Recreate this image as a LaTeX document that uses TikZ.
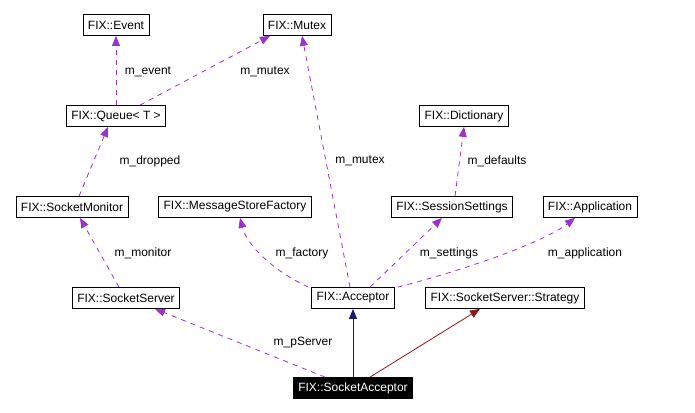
\documentclass[tikz,border=0pt]{standalone}
\usepackage{fontspec}
\setmainfont{Liberation Sans}
\usetikzlibrary{arrows.meta}

\definecolor{usecol}{HTML}{9A32CD}
\definecolor{basecol}{HTML}{191970}
\definecolor{privcol}{HTML}{8B1A1A}

\tikzset{
  cls/.style={draw,rectangle,line width=.8pt,inner xsep=5pt,inner ysep=0pt,
    minimum height=21pt,font=\fontsize{12}{14}\selectfont},
  usedby/.style={draw=usecol,line width=.8pt,dash pattern=on 5pt off 5pt,
    -{Triangle[length=10pt,width=8pt,fill=usecol]}},
  inherit/.style={draw=basecol,line width=.8pt,
    -{Triangle[length=10pt,width=8pt,fill=basecol]}},
  privinherit/.style={draw=privcol,line width=.8pt,
    -{Triangle[length=10pt,width=8pt,fill=privcol]}},
  lbl/.style={font=\fontsize{12}{14}\selectfont,inner sep=0pt}
}

\begin{document}
\begin{tikzpicture}[x=1pt,y=-1pt]
            \useasboundingbox (0,0) rectangle (695,412);
            \draw (116,25) node[cls] (event) {FIX::Event};
            \draw (297,25) node[cls] (mutex) {FIX::Mutex};
            \draw (116,116) node[cls] (queue) {FIX::Queue< T >};
            \draw (464,116) node[cls] (dict) {FIX::Dictionary};
            \draw (72,207) node[cls] (smonitor) {FIX::SocketMonitor};
            \draw (235,207) node[cls] (msfactory) {FIX::MessageStoreFactory};
            \draw (452,207) node[cls] (settings) {FIX::SessionSettings};
            \draw (590,207) node[cls] (app) {FIX::Application};
            \draw (126,298) node[cls] (sserver) {FIX::SocketServer};
            \draw (353,298) node[cls] (acceptor) {FIX::Acceptor};
            \draw (505,298) node[cls] (strategy) {FIX::SocketServer::Strategy};
            \draw (353,388) node[cls,fill=black,text=white] (sacceptor)
            {FIX::SocketAcceptor};

            \draw[usedby] (queue) -- (event);
            \draw (148,72) node[lbl] (l1) {m\_event};
            \draw[usedby] ([xshift=24pt]queue.north) -- ([xshift=-27pt]mutex.south);
            \draw (265,72) node[lbl] (l2) {m\_mutex};
            \draw[usedby] ([xshift=7pt]smonitor.north) -- ([xshift=-8pt]queue.south);
            \draw (150,161) node[lbl] (l3) {m\_dropped};
            \draw[usedby] ([xshift=-3pt]acceptor.north) -- ([xshift=5pt]mutex.south);
            \draw (360,161) node[lbl] (l4) {m\_mutex};
            \draw[usedby] ([xshift=3pt]settings.north) -- (dict.south);
            \draw (497,161) node[lbl] (l5) {m\_defaults};
            \draw[usedby] ([xshift=-7pt]sserver.north) -- ([xshift=8pt]smonitor.south);
            \draw (143,253) node[lbl] (l6) {m\_monitor};
            \draw[usedby] ([xshift=-3pt]acceptor.north west) .. controls (272,270)
            and (247,245) .. ([xshift=5pt]msfactory.south);
            \draw (302,253) node[lbl] (l7) {m\_factory};
            \draw[usedby] ([xshift=17pt]acceptor.north) -- ([xshift=-10pt]settings.south);
            \draw (449,253) node[lbl] (l8) {m\_settings};
            \draw[usedby] ([xshift=3pt]acceptor.north east) .. controls (450,274)
            and (540,245) .. ([xshift=-15pt]app.south);
            \draw (585,253) node[lbl] (l9) {m\_application};
            \draw[usedby] ([xshift=-28pt]sacceptor.north) -- ([xshift=29pt]sserver.south);
            \draw (303,343) node[lbl] (l10) {m\_pServer};
            \draw[inherit] (sacceptor) -- (acceptor);
            \draw[privinherit] ([xshift=17pt]sacceptor.north) -- ([xshift=-25pt]strategy.south);
\end{tikzpicture}
\end{document}
